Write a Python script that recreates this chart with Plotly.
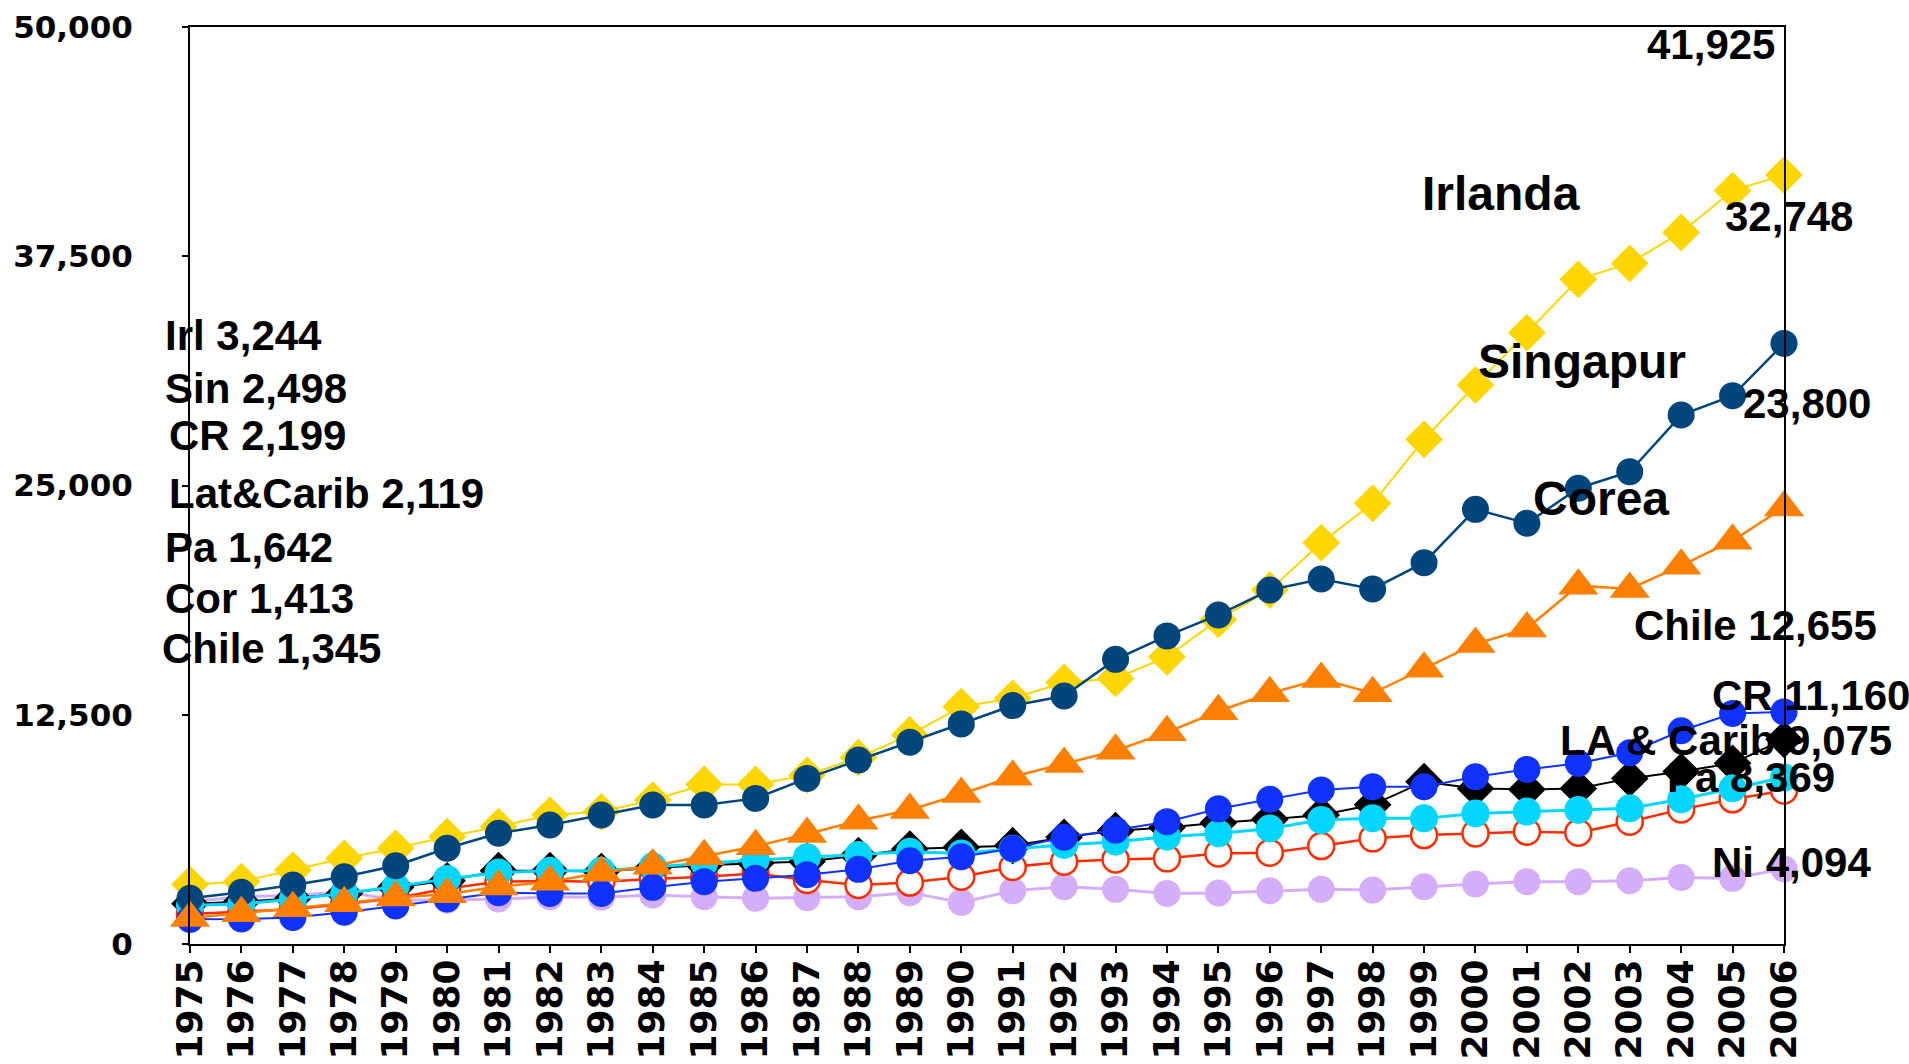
import plotly.graph_objects as go

# ---------------- data ----------------
years = [1975, 1976, 1977, 1978, 1979, 1980, 1981, 1982, 1983, 1984, 1985, 1986,
         1987, 1988, 1989, 1990, 1991, 1992, 1993, 1994, 1995, 1996, 1997, 1998,
         1999, 2000, 2001, 2002, 2003, 2004, 2005, 2006]

irlanda = [3244, 3400, 4030, 4670, 5220, 5850, 6400, 7030, 7210, 7850, 8700, 8700,
           9200, 10170, 11400, 12940, 13400, 14260, 14480, 15660, 17700, 19300, 21880, 24030,
           27520, 30480, 33330, 36240, 37110, 38800, 41080, 41925]
singapur = [2498, 2820, 3220, 3670, 4270, 5220, 6040, 6490, 7030, 7580, 7580, 7940,
            9030, 10030, 11000, 12000, 13000, 13520, 15520, 16800, 17940, 19300, 19900, 19360,
            20790, 23700, 22940, 24850, 25750, 28840, 29900, 32748]
corea = [1413, 1670, 1950, 2220, 2530, 2710, 3130, 3400, 3890, 4270, 4780, 5330,
         6000, 6720, 7310, 8180, 9120, 9810, 10540, 11540, 12690, 13670, 14450, 13670,
         15010, 16360, 17200, 19540, 19360, 20630, 21990, 23800]
chile = [1345, 1360, 1450, 1730, 2070, 2450, 2800, 2760, 2760, 3090, 3400, 3580,
         3780, 4070, 4540, 4760, 5210, 5820, 6210, 6670, 7370, 7890, 8400, 8580,
         8580, 9120, 9520, 9850, 10430, 11630, 12570, 12655]
costa_rica = [2199, 2300, 2500, 2750, 3100, 3450, 4000, 4000, 3950, 4150, 4300, 4400,
              4500, 4820, 5180, 5270, 5360, 5820, 6180, 6350, 6610, 6800, 7040, 7590,
              8850, 8480, 8430, 8480, 9030, 9400, 9850, 11160]
la_carib = [2119, 2180, 2440, 2760, 3130, 3550, 3900, 4000, 4000, 4220, 4400, 4580,
            4730, 4850, 5030, 4940, 5200, 5400, 5580, 5850, 6030, 6300, 6760, 6850,
            6850, 7120, 7220, 7310, 7400, 7890, 8490, 9075]
panama = [1642, 1760, 1890, 2180, 2490, 3030, 3400, 3440, 3400, 3540, 3670, 3850,
          3490, 3220, 3350, 3670, 4200, 4490, 4610, 4670, 4940, 4980, 5340, 5760,
          5940, 6030, 6120, 6070, 6670, 7340, 7890, 8369]
nicaragua = [2300, 2580, 2650, 2850, 2400, 2400, 2450, 2580, 2550, 2670, 2580, 2490,
             2530, 2580, 2800, 2270, 2900, 3120, 2980, 2760, 2780, 2900, 2980, 2940,
             3120, 3270, 3400, 3400, 3450, 3630, 3580, 4094]

y_tickvals = [0, 12500, 25000, 37500, 50000]
y_ticktext = ["0", "12,500", "25,000", "37,500", "50,000"]

left_labels = ["Irl 3,244", "Sin 2,498", "CR 2,199", "Lat&Carib 2,119",
               "Pa 1,642", "Cor 1,413", "Chile 1,345"]
right_labels = ["41,925", "Irlanda", "32,748", "Singapur", "23,800", "Corea",
                "Chile 12,655", "CR 11,160", "LA & Carib 9,075", "Pa 8,369", "Ni 4,094"]

# ---------------- layout geometry (pixels) ----------------
W, H = 1909, 1064
PL, PR, PT, PB = 190, 1784, 27, 944

left_pos = [(163, 335), (163, 388), (167, 435), (167, 493),
            (163, 547), (163, 598), (160, 648)]
# (x, y, anchor, font size)
right_pos = [(1777, 45, "right", 42), (1582, 193, "right", 48), (1723, 216, "left", 42),
             (1688, 361, "right", 48), (1741, 403, "left", 42), (1531, 498, "left", 48),
             (1632, 625, "left", 42), (1710, 695, "left", 42), (1558, 740, "left", 42),
             (1837, 777, "right", 42), (1710, 862, "left", 42)]

fig = go.Figure()

series = [
    (nicaragua, "Ni", "rgb(213,174,250)", "circle", 27, 3),
    (panama, "Pa", "rgb(255,45,0)", "circle-open", 26, 2.5),
    (costa_rica, "CR", "black", "diamond", 29, 2),
    (la_carib, "LA & Carib", "rgb(0,214,255)", "circle", 28, 3),
    (chile, "Chile", "rgb(16,50,255)", "circle", 27, 2),
    (irlanda, "Irlanda", "rgb(255,214,0)", "diamond", 29, 2),
    (singapur, "Singapur", "rgb(0,70,125)", "circle", 27, 2.5),
    (corea, "Corea", "rgb(255,128,0)", "triangle-up", 35, 2.5),
]

for vals, name, color, symbol, msize, lw in series:
    if symbol == "circle-open":
        marker = dict(symbol="circle", size=msize, color="white",
                      line=dict(color=color, width=2.5))
    else:
        marker = dict(symbol=symbol, size=msize, color=color, line=dict(width=0))
    fig.add_trace(go.Scatter(
        x=years, y=vals, name=name, mode="lines+markers",
        line=dict(color=color, width=lw), marker=marker,
        cliponaxis=False, showlegend=False))

def px_ann(text, x, y, anchor, size=42):
    return dict(text=text, xref="paper", yref="paper",
                x=(x - PL) / (PR - PL), y=(PB - y) / (PB - PT),
                xanchor=anchor, yanchor="middle", showarrow=False,
                font=dict(family="Liberation Sans", size=size, color="black", weight="bold"))

annotations = []
for t, (x, y) in zip(left_labels, left_pos):
    annotations.append(px_ann(t, x, y, "left"))
for t, (x, y, a, s) in zip(right_labels, right_pos):
    annotations.append(px_ann(t, x, y, a, s))

fig.update_layout(
    width=W, height=H,
    margin=dict(l=PL, r=W - PR, t=PT, b=H - PB, pad=0, autoexpand=False),
    paper_bgcolor="white", plot_bgcolor="white",
    showlegend=False,
    annotations=annotations,
)

fig.update_xaxes(
    range=[1975, 2006], tickmode="array", tickvals=years,
    ticktext=[str(y) for y in years], tickangle=-90,
    showgrid=False, zeroline=False, automargin=False,
    showline=True, linecolor="black", linewidth=2, mirror=True,
    ticks="outside", ticklen=7, tickwidth=2, tickcolor="black",
    ticklabelstandoff=-8,
    tickfont=dict(family="DejaVu Sans", size=36, color="black", weight="bold"),
)
fig.update_yaxes(
    range=[0, 50000], tickmode="array", tickvals=y_tickvals, ticktext=y_ticktext,
    showgrid=False, zeroline=False, automargin=False,
    showline=True, linecolor="black", linewidth=2, mirror=True,
    ticks="outside", ticklen=6, tickwidth=2, tickcolor="black",
    ticklabelstandoff=43,
    tickfont=dict(family="DejaVu Sans", size=31, color="black", weight="bold"),
)

fig.write_html("out.html", config={"displayModeBar": False},
               post_script="document.body.style.margin='0';document.body.style.overflow='hidden';")
